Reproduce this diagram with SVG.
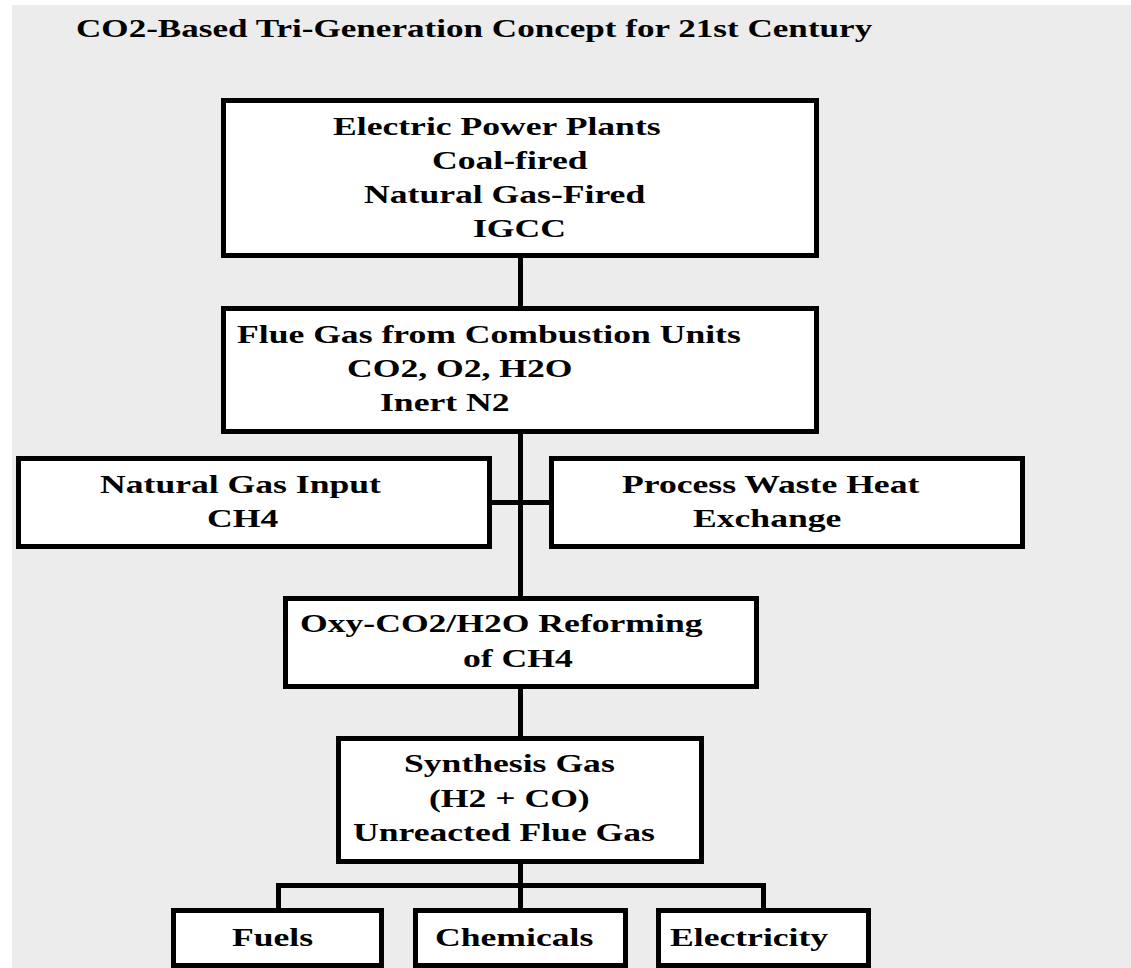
<svg xmlns="http://www.w3.org/2000/svg" width="1131" height="968" viewBox="0 0 1131 968">
<style>
.bg{fill:#ececec}
.box{fill:#ffffff;stroke:#000000;stroke-width:5}
.ln{stroke:#000000;stroke-width:5;fill:none}
text{font-family:"Liberation Serif","Times New Roman",serif;font-weight:bold;font-size:26px;fill:#000000}
</style>
<rect class="bg" x="12" y="5" width="1119" height="963"/>
<g id="title">
<text transform="translate(76 37) scale(1.35 1)">CO2-Based Tri-Generation Concept for 21st Century</text>
</g>
<g id="connectors">
<line class="ln" x1="520.5" y1="256" x2="520.5" y2="310"/>
<line class="ln" x1="520.5" y1="432" x2="520.5" y2="600"/>
<line class="ln" x1="490" y1="502.5" x2="553" y2="502.5"/>
<line class="ln" x1="520.5" y1="687" x2="520.5" y2="740"/>
<line class="ln" x1="520.5" y1="862" x2="520.5" y2="912"/>
<polyline class="ln" points="278.5,912 278.5,885.5 763.5,885.5 763.5,912"/>
</g>
<g id="power-plants">
<rect class="box" x="223.5" y="100.5" width="593" height="155"/>
<text transform="translate(333 135) scale(1.37 1)">Electric Power Plants</text>
<text transform="translate(432 169) scale(1.37 1)">Coal-fired</text>
<text transform="translate(364 203) scale(1.37 1)">Natural Gas-Fired</text>
<text transform="translate(473 237) scale(1.37 1)">IGCC</text>
</g>
<g id="flue-gas">
<rect class="box" x="223.5" y="308.5" width="593" height="123"/>
<text transform="translate(237 343) scale(1.37 1)">Flue Gas from Combustion Units</text>
<text transform="translate(347 377) scale(1.37 1)">CO2, O2, H2O</text>
<text transform="translate(380 411) scale(1.37 1)">Inert N2</text>
</g>
<g id="natural-gas">
<rect class="box" x="18.5" y="458.5" width="471" height="88"/>
<text transform="translate(100 493) scale(1.37 1)">Natural Gas Input</text>
<text transform="translate(207 527) scale(1.37 1)">CH4</text>
</g>
<g id="waste-heat">
<rect class="box" x="551.5" y="458.5" width="471" height="88"/>
<text transform="translate(622 493) scale(1.37 1)">Process Waste Heat</text>
<text transform="translate(693 527) scale(1.37 1)">Exchange</text>
</g>
<g id="reforming">
<rect class="box" x="285.5" y="598.5" width="471" height="88"/>
<text transform="translate(300 632) scale(1.37 1)">Oxy-CO2/H2O Reforming</text>
<text transform="translate(463 667) scale(1.37 1)">of CH4</text>
</g>
<g id="synthesis-gas">
<rect class="box" x="338.5" y="738.5" width="363" height="123"/>
<text transform="translate(404 772) scale(1.37 1)">Synthesis Gas</text>
<text transform="translate(429 807) scale(1.37 1)">(H2 + CO)</text>
<text transform="translate(353 841) scale(1.37 1)">Unreacted Flue Gas</text>
</g>
<g id="fuels">
<rect class="box" x="173.5" y="910.5" width="208" height="55"/>
<text transform="translate(232 946) scale(1.37 1)">Fuels</text>
</g>
<g id="chemicals">
<rect class="box" x="415.5" y="910.5" width="210" height="55"/>
<text transform="translate(435 946) scale(1.37 1)">Chemicals</text>
</g>
<g id="electricity">
<rect class="box" x="658.5" y="910.5" width="210" height="55"/>
<text transform="translate(670 946) scale(1.37 1)">Electricity</text>
</g>
</svg>
